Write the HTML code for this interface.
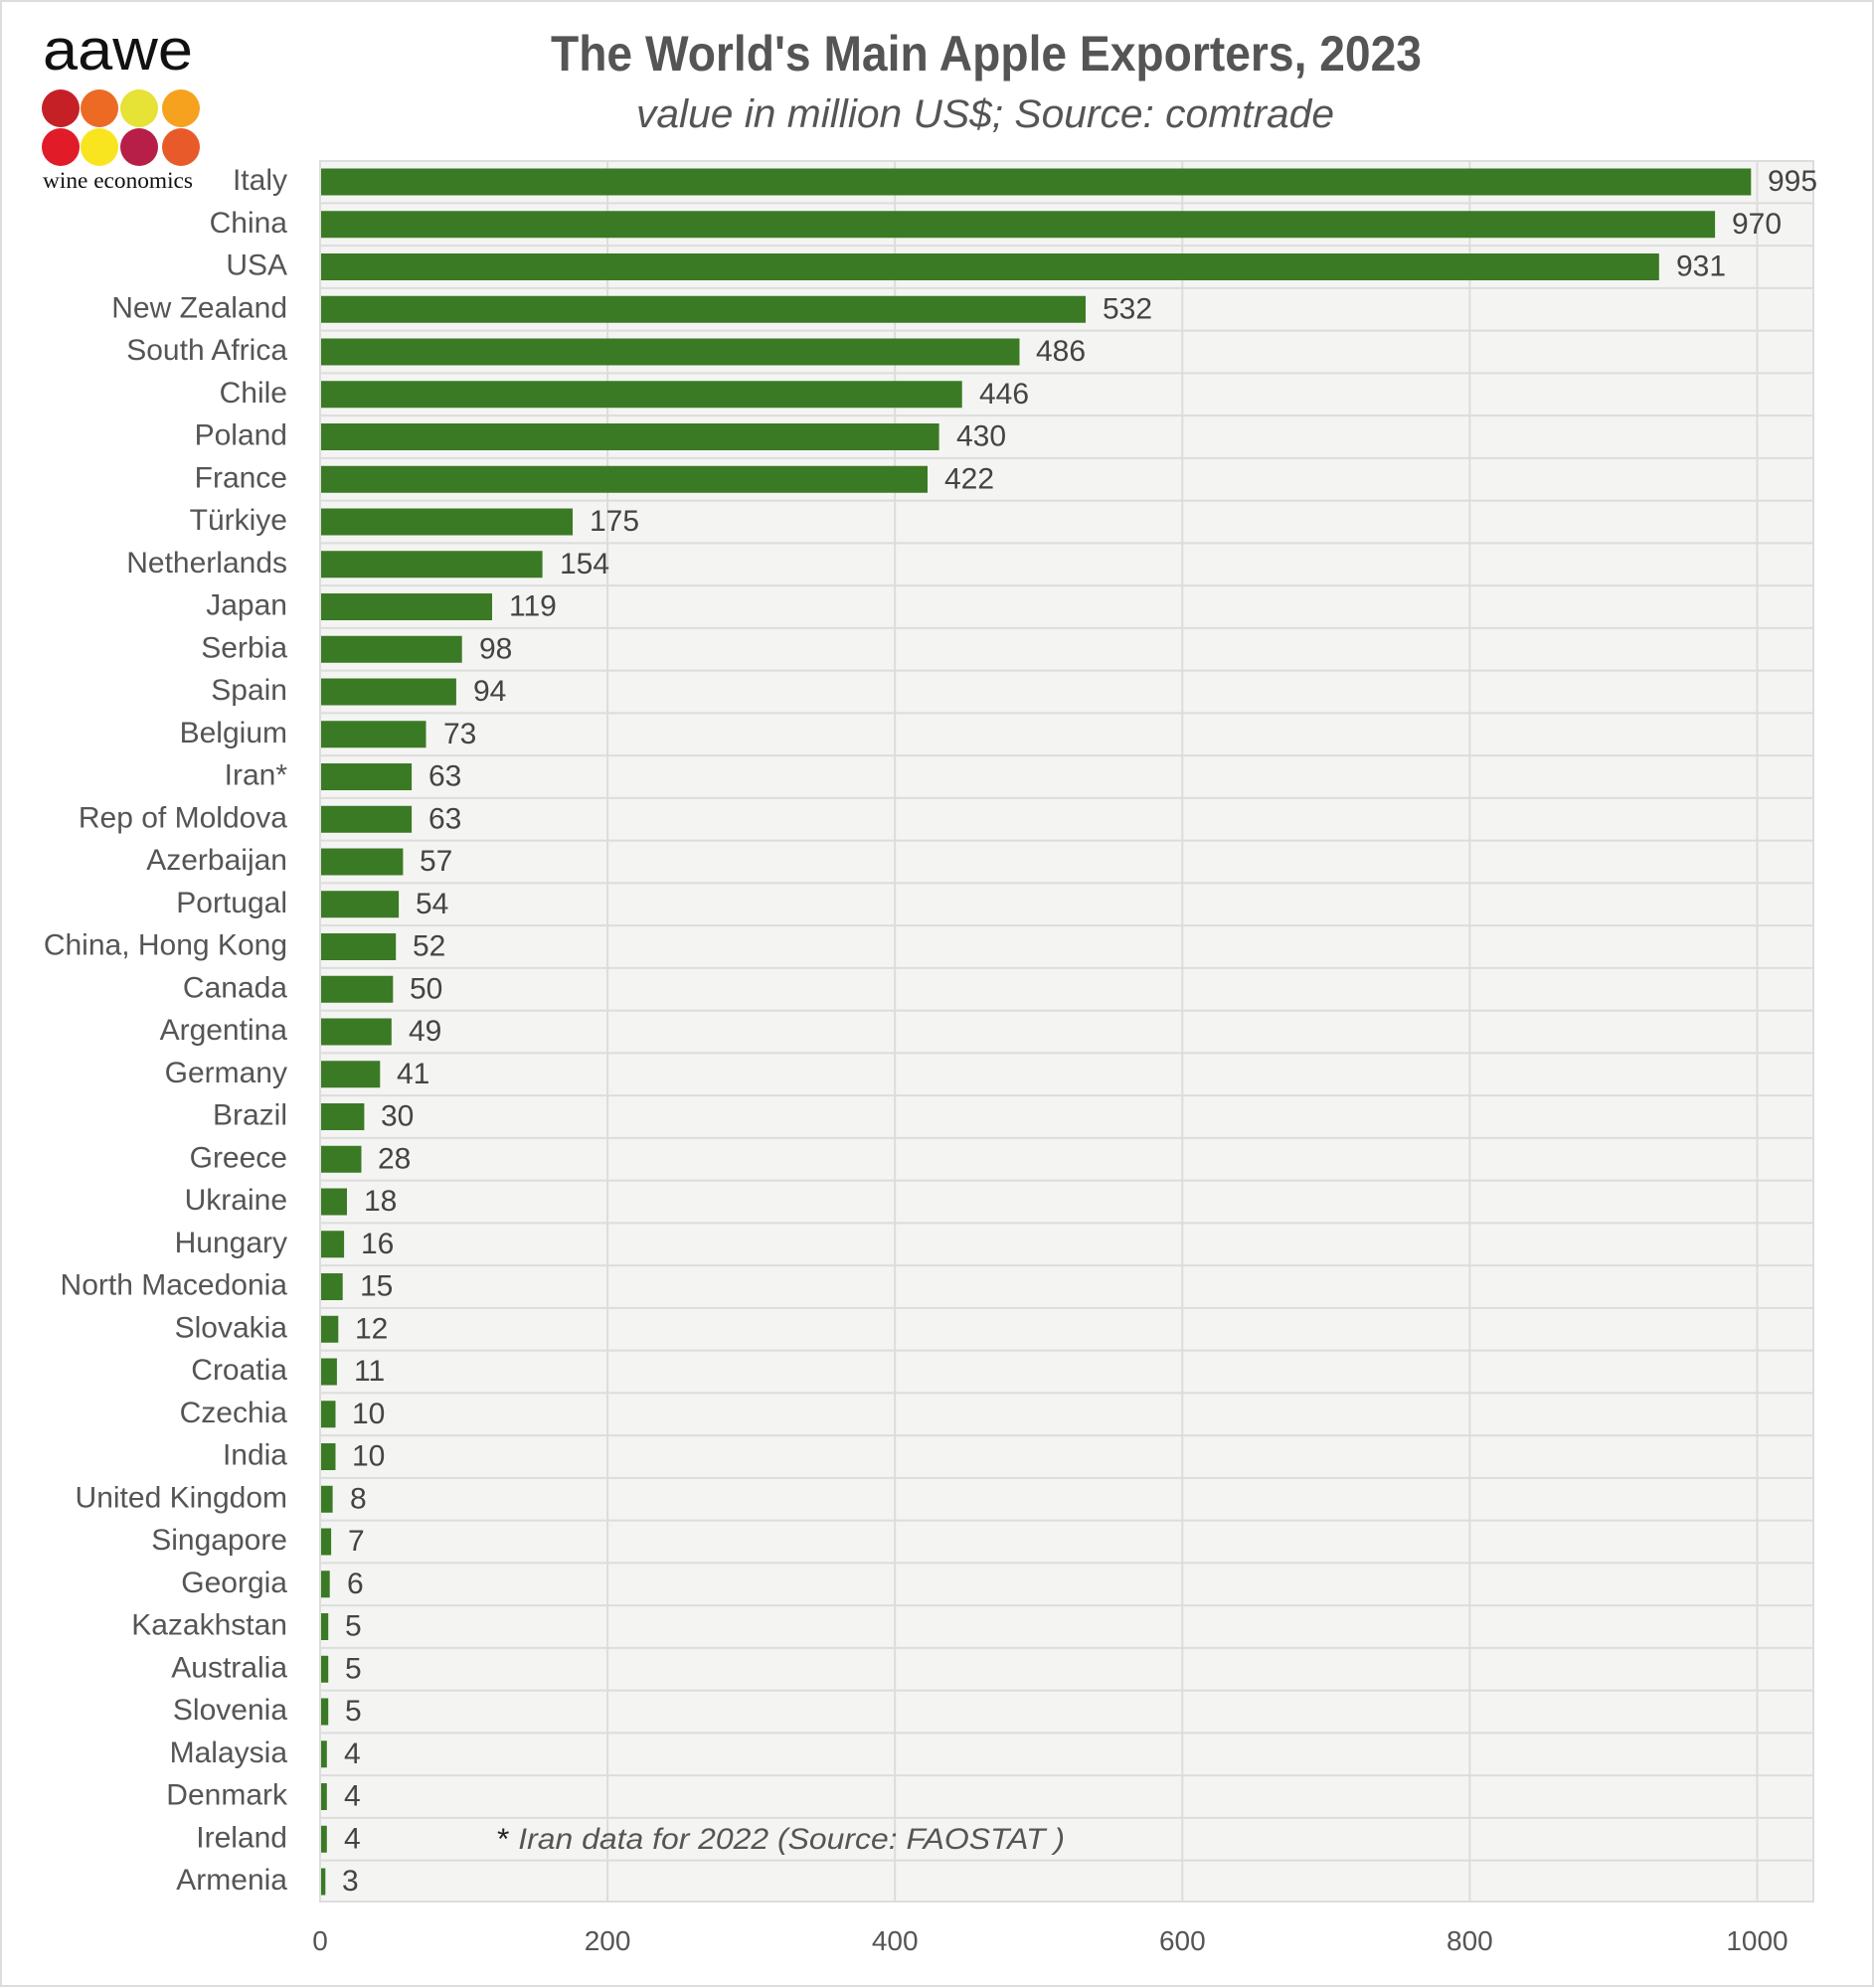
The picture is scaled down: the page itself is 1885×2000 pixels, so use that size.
<!DOCTYPE html>
<html><head><meta charset="utf-8"><style>
html,body{margin:0;padding:0;background:#fff;}
svg{display:block;}
</style></head><body>
<svg width="1885" height="2000" viewBox="0 0 1885 2000" xmlns="http://www.w3.org/2000/svg" font-family="Liberation Sans, sans-serif">
<rect x="1" y="1" width="1883" height="1997" fill="#fff" stroke="#ddd" stroke-width="2"/>
<text x="43" y="70" font-size="58" fill="#111" textLength="151" lengthAdjust="spacingAndGlyphs">aawe</text>
<circle cx="61" cy="109" r="19" fill="#c62027"/>
<circle cx="100" cy="109" r="19" fill="#ec6a24"/>
<circle cx="140" cy="109" r="19" fill="#e6e236"/>
<circle cx="182" cy="109" r="19" fill="#f6a21e"/>
<circle cx="61" cy="148" r="19" fill="#e11b28"/>
<circle cx="100" cy="148" r="19" fill="#f8e51f"/>
<circle cx="140" cy="148" r="19" fill="#b71f48"/>
<circle cx="182" cy="148" r="19" fill="#e95a2a"/>
<text x="43" y="189" font-size="23" font-family="Liberation Serif, serif" fill="#111" textLength="151" lengthAdjust="spacingAndGlyphs">wine economics</text>
<text x="554" y="71" font-size="50" font-weight="bold" fill="#555" textLength="876" lengthAdjust="spacingAndGlyphs">The World's Main Apple Exporters, 2023</text>
<text x="640" y="128" font-size="40" font-style="italic" fill="#555" textLength="702" lengthAdjust="spacingAndGlyphs">value in million US$; Source: comtrade</text>
<rect x="322" y="162" width="1502" height="1751" fill="#f4f5f3" stroke="#ddd" stroke-width="2"/>
<g stroke="#dcdcdc" stroke-width="2">
<line x1="611.1" y1="162" x2="611.1" y2="1913"/>
<line x1="900.2" y1="162" x2="900.2" y2="1913"/>
<line x1="1189.3" y1="162" x2="1189.3" y2="1913"/>
<line x1="1478.4" y1="162" x2="1478.4" y2="1913"/>
<line x1="1767.5" y1="162" x2="1767.5" y2="1913"/>
</g>
<g font-size="28" fill="#555" text-anchor="middle">
<text x="322" y="1962">0</text><text x="611.1" y="1962">200</text><text x="900.2" y="1962">400</text><text x="1189.3" y="1962">600</text><text x="1478.4" y="1962">800</text><text x="1767.5" y="1962">1000</text>
</g>
<g font-size="30">
<g transform="translate(0,183)"><rect x="323" y="-13.5" width="1438.3" height="27" fill="#3b7a24"/><text x="289" y="8" fill="#555" text-anchor="end">Italy</text><text x="1778" y="9" fill="#444">995</text></g>
<g transform="translate(0,225.75)"><line x1="322" x2="1824" y1="-21.4" y2="-21.4" stroke="#dcdcdc" stroke-width="2"/><rect x="323" y="-13.5" width="1402.1" height="27" fill="#3b7a24"/><text x="289" y="8" fill="#555" text-anchor="end">China</text><text x="1742" y="9" fill="#444">970</text></g>
<g transform="translate(0,268.5)"><line x1="322" x2="1824" y1="-21.4" y2="-21.4" stroke="#dcdcdc" stroke-width="2"/><rect x="323" y="-13.5" width="1345.8" height="27" fill="#3b7a24"/><text x="289" y="8" fill="#555" text-anchor="end">USA</text><text x="1686" y="9" fill="#444">931</text></g>
<g transform="translate(0,311.25)"><line x1="322" x2="1824" y1="-21.4" y2="-21.4" stroke="#dcdcdc" stroke-width="2"/><rect x="323" y="-13.5" width="769" height="27" fill="#3b7a24"/><text x="289" y="8" fill="#555" text-anchor="end">New Zealand</text><text x="1109" y="9" fill="#444">532</text></g>
<g transform="translate(0,354)"><line x1="322" x2="1824" y1="-21.4" y2="-21.4" stroke="#dcdcdc" stroke-width="2"/><rect x="323" y="-13.5" width="702.5" height="27" fill="#3b7a24"/><text x="289" y="8" fill="#555" text-anchor="end">South Africa</text><text x="1042" y="9" fill="#444">486</text></g>
<g transform="translate(0,396.75)"><line x1="322" x2="1824" y1="-21.4" y2="-21.4" stroke="#dcdcdc" stroke-width="2"/><rect x="323" y="-13.5" width="644.7" height="27" fill="#3b7a24"/><text x="289" y="8" fill="#555" text-anchor="end">Chile</text><text x="985" y="9" fill="#444">446</text></g>
<g transform="translate(0,439.5)"><line x1="322" x2="1824" y1="-21.4" y2="-21.4" stroke="#dcdcdc" stroke-width="2"/><rect x="323" y="-13.5" width="621.6" height="27" fill="#3b7a24"/><text x="289" y="8" fill="#555" text-anchor="end">Poland</text><text x="962" y="9" fill="#444">430</text></g>
<g transform="translate(0,482.25)"><line x1="322" x2="1824" y1="-21.4" y2="-21.4" stroke="#dcdcdc" stroke-width="2"/><rect x="323" y="-13.5" width="610" height="27" fill="#3b7a24"/><text x="289" y="8" fill="#555" text-anchor="end">France</text><text x="950" y="9" fill="#444">422</text></g>
<g transform="translate(0,525)"><line x1="322" x2="1824" y1="-21.4" y2="-21.4" stroke="#dcdcdc" stroke-width="2"/><rect x="323" y="-13.5" width="253" height="27" fill="#3b7a24"/><text x="289" y="8" fill="#555" text-anchor="end">Türkiye</text><text x="593" y="9" fill="#444">175</text></g>
<g transform="translate(0,567.75)"><line x1="322" x2="1824" y1="-21.4" y2="-21.4" stroke="#dcdcdc" stroke-width="2"/><rect x="323" y="-13.5" width="222.6" height="27" fill="#3b7a24"/><text x="289" y="8" fill="#555" text-anchor="end">Netherlands</text><text x="563" y="9" fill="#444">154</text></g>
<g transform="translate(0,610.5)"><line x1="322" x2="1824" y1="-21.4" y2="-21.4" stroke="#dcdcdc" stroke-width="2"/><rect x="323" y="-13.5" width="172" height="27" fill="#3b7a24"/><text x="289" y="8" fill="#555" text-anchor="end">Japan</text><text x="512" y="9" fill="#444">119</text></g>
<g transform="translate(0,653.25)"><line x1="322" x2="1824" y1="-21.4" y2="-21.4" stroke="#dcdcdc" stroke-width="2"/><rect x="323" y="-13.5" width="141.7" height="27" fill="#3b7a24"/><text x="289" y="8" fill="#555" text-anchor="end">Serbia</text><text x="482" y="9" fill="#444">98</text></g>
<g transform="translate(0,696)"><line x1="322" x2="1824" y1="-21.4" y2="-21.4" stroke="#dcdcdc" stroke-width="2"/><rect x="323" y="-13.5" width="135.9" height="27" fill="#3b7a24"/><text x="289" y="8" fill="#555" text-anchor="end">Spain</text><text x="476" y="9" fill="#444">94</text></g>
<g transform="translate(0,738.75)"><line x1="322" x2="1824" y1="-21.4" y2="-21.4" stroke="#dcdcdc" stroke-width="2"/><rect x="323" y="-13.5" width="105.5" height="27" fill="#3b7a24"/><text x="289" y="8" fill="#555" text-anchor="end">Belgium</text><text x="446" y="9" fill="#444">73</text></g>
<g transform="translate(0,781.5)"><line x1="322" x2="1824" y1="-21.4" y2="-21.4" stroke="#dcdcdc" stroke-width="2"/><rect x="323" y="-13.5" width="91.1" height="27" fill="#3b7a24"/><text x="289" y="8" fill="#555" text-anchor="end">Iran*</text><text x="431" y="9" fill="#444">63</text></g>
<g transform="translate(0,824.25)"><line x1="322" x2="1824" y1="-21.4" y2="-21.4" stroke="#dcdcdc" stroke-width="2"/><rect x="323" y="-13.5" width="91.1" height="27" fill="#3b7a24"/><text x="289" y="8" fill="#555" text-anchor="end">Rep of Moldova</text><text x="431" y="9" fill="#444">63</text></g>
<g transform="translate(0,867)"><line x1="322" x2="1824" y1="-21.4" y2="-21.4" stroke="#dcdcdc" stroke-width="2"/><rect x="323" y="-13.5" width="82.4" height="27" fill="#3b7a24"/><text x="289" y="8" fill="#555" text-anchor="end">Azerbaijan</text><text x="422" y="9" fill="#444">57</text></g>
<g transform="translate(0,909.75)"><line x1="322" x2="1824" y1="-21.4" y2="-21.4" stroke="#dcdcdc" stroke-width="2"/><rect x="323" y="-13.5" width="78.1" height="27" fill="#3b7a24"/><text x="289" y="8" fill="#555" text-anchor="end">Portugal</text><text x="418" y="9" fill="#444">54</text></g>
<g transform="translate(0,952.5)"><line x1="322" x2="1824" y1="-21.4" y2="-21.4" stroke="#dcdcdc" stroke-width="2"/><rect x="323" y="-13.5" width="75.2" height="27" fill="#3b7a24"/><text x="289" y="8" fill="#555" text-anchor="end">China, Hong Kong</text><text x="415" y="9" fill="#444">52</text></g>
<g transform="translate(0,995.25)"><line x1="322" x2="1824" y1="-21.4" y2="-21.4" stroke="#dcdcdc" stroke-width="2"/><rect x="323" y="-13.5" width="72.3" height="27" fill="#3b7a24"/><text x="289" y="8" fill="#555" text-anchor="end">Canada</text><text x="412" y="9" fill="#444">50</text></g>
<g transform="translate(0,1038)"><line x1="322" x2="1824" y1="-21.4" y2="-21.4" stroke="#dcdcdc" stroke-width="2"/><rect x="323" y="-13.5" width="70.8" height="27" fill="#3b7a24"/><text x="289" y="8" fill="#555" text-anchor="end">Argentina</text><text x="411" y="9" fill="#444">49</text></g>
<g transform="translate(0,1080.75)"><line x1="322" x2="1824" y1="-21.4" y2="-21.4" stroke="#dcdcdc" stroke-width="2"/><rect x="323" y="-13.5" width="59.3" height="27" fill="#3b7a24"/><text x="289" y="8" fill="#555" text-anchor="end">Germany</text><text x="399" y="9" fill="#444">41</text></g>
<g transform="translate(0,1123.5)"><line x1="322" x2="1824" y1="-21.4" y2="-21.4" stroke="#dcdcdc" stroke-width="2"/><rect x="323" y="-13.5" width="43.4" height="27" fill="#3b7a24"/><text x="289" y="8" fill="#555" text-anchor="end">Brazil</text><text x="383" y="9" fill="#444">30</text></g>
<g transform="translate(0,1166.25)"><line x1="322" x2="1824" y1="-21.4" y2="-21.4" stroke="#dcdcdc" stroke-width="2"/><rect x="323" y="-13.5" width="40.5" height="27" fill="#3b7a24"/><text x="289" y="8" fill="#555" text-anchor="end">Greece</text><text x="380" y="9" fill="#444">28</text></g>
<g transform="translate(0,1209)"><line x1="322" x2="1824" y1="-21.4" y2="-21.4" stroke="#dcdcdc" stroke-width="2"/><rect x="323" y="-13.5" width="26" height="27" fill="#3b7a24"/><text x="289" y="8" fill="#555" text-anchor="end">Ukraine</text><text x="366" y="9" fill="#444">18</text></g>
<g transform="translate(0,1251.75)"><line x1="322" x2="1824" y1="-21.4" y2="-21.4" stroke="#dcdcdc" stroke-width="2"/><rect x="323" y="-13.5" width="23.1" height="27" fill="#3b7a24"/><text x="289" y="8" fill="#555" text-anchor="end">Hungary</text><text x="363" y="9" fill="#444">16</text></g>
<g transform="translate(0,1294.5)"><line x1="322" x2="1824" y1="-21.4" y2="-21.4" stroke="#dcdcdc" stroke-width="2"/><rect x="323" y="-13.5" width="21.7" height="27" fill="#3b7a24"/><text x="289" y="8" fill="#555" text-anchor="end">North Macedonia</text><text x="362" y="9" fill="#444">15</text></g>
<g transform="translate(0,1337.25)"><line x1="322" x2="1824" y1="-21.4" y2="-21.4" stroke="#dcdcdc" stroke-width="2"/><rect x="323" y="-13.5" width="17.3" height="27" fill="#3b7a24"/><text x="289" y="8" fill="#555" text-anchor="end">Slovakia</text><text x="357" y="9" fill="#444">12</text></g>
<g transform="translate(0,1380)"><line x1="322" x2="1824" y1="-21.4" y2="-21.4" stroke="#dcdcdc" stroke-width="2"/><rect x="323" y="-13.5" width="15.9" height="27" fill="#3b7a24"/><text x="289" y="8" fill="#555" text-anchor="end">Croatia</text><text x="356" y="9" fill="#444">11</text></g>
<g transform="translate(0,1422.75)"><line x1="322" x2="1824" y1="-21.4" y2="-21.4" stroke="#dcdcdc" stroke-width="2"/><rect x="323" y="-13.5" width="14.5" height="27" fill="#3b7a24"/><text x="289" y="8" fill="#555" text-anchor="end">Czechia</text><text x="354" y="9" fill="#444">10</text></g>
<g transform="translate(0,1465.5)"><line x1="322" x2="1824" y1="-21.4" y2="-21.4" stroke="#dcdcdc" stroke-width="2"/><rect x="323" y="-13.5" width="14.5" height="27" fill="#3b7a24"/><text x="289" y="8" fill="#555" text-anchor="end">India</text><text x="354" y="9" fill="#444">10</text></g>
<g transform="translate(0,1508.25)"><line x1="322" x2="1824" y1="-21.4" y2="-21.4" stroke="#dcdcdc" stroke-width="2"/><rect x="323" y="-13.5" width="11.6" height="27" fill="#3b7a24"/><text x="289" y="8" fill="#555" text-anchor="end">United Kingdom</text><text x="352" y="9" fill="#444">8</text></g>
<g transform="translate(0,1551)"><line x1="322" x2="1824" y1="-21.4" y2="-21.4" stroke="#dcdcdc" stroke-width="2"/><rect x="323" y="-13.5" width="10.1" height="27" fill="#3b7a24"/><text x="289" y="8" fill="#555" text-anchor="end">Singapore</text><text x="350" y="9" fill="#444">7</text></g>
<g transform="translate(0,1593.75)"><line x1="322" x2="1824" y1="-21.4" y2="-21.4" stroke="#dcdcdc" stroke-width="2"/><rect x="323" y="-13.5" width="8.7" height="27" fill="#3b7a24"/><text x="289" y="8" fill="#555" text-anchor="end">Georgia</text><text x="349" y="9" fill="#444">6</text></g>
<g transform="translate(0,1636.5)"><line x1="322" x2="1824" y1="-21.4" y2="-21.4" stroke="#dcdcdc" stroke-width="2"/><rect x="323" y="-13.5" width="7.2" height="27" fill="#3b7a24"/><text x="289" y="8" fill="#555" text-anchor="end">Kazakhstan</text><text x="347" y="9" fill="#444">5</text></g>
<g transform="translate(0,1679.25)"><line x1="322" x2="1824" y1="-21.4" y2="-21.4" stroke="#dcdcdc" stroke-width="2"/><rect x="323" y="-13.5" width="7.2" height="27" fill="#3b7a24"/><text x="289" y="8" fill="#555" text-anchor="end">Australia</text><text x="347" y="9" fill="#444">5</text></g>
<g transform="translate(0,1722)"><line x1="322" x2="1824" y1="-21.4" y2="-21.4" stroke="#dcdcdc" stroke-width="2"/><rect x="323" y="-13.5" width="7.2" height="27" fill="#3b7a24"/><text x="289" y="8" fill="#555" text-anchor="end">Slovenia</text><text x="347" y="9" fill="#444">5</text></g>
<g transform="translate(0,1764.75)"><line x1="322" x2="1824" y1="-21.4" y2="-21.4" stroke="#dcdcdc" stroke-width="2"/><rect x="323" y="-13.5" width="5.8" height="27" fill="#3b7a24"/><text x="289" y="8" fill="#555" text-anchor="end">Malaysia</text><text x="346" y="9" fill="#444">4</text></g>
<g transform="translate(0,1807.5)"><line x1="322" x2="1824" y1="-21.4" y2="-21.4" stroke="#dcdcdc" stroke-width="2"/><rect x="323" y="-13.5" width="5.8" height="27" fill="#3b7a24"/><text x="289" y="8" fill="#555" text-anchor="end">Denmark</text><text x="346" y="9" fill="#444">4</text></g>
<g transform="translate(0,1850.25)"><line x1="322" x2="1824" y1="-21.4" y2="-21.4" stroke="#dcdcdc" stroke-width="2"/><rect x="323" y="-13.5" width="5.8" height="27" fill="#3b7a24"/><text x="289" y="8" fill="#555" text-anchor="end">Ireland</text><text x="346" y="9" fill="#444">4</text></g>
<g transform="translate(0,1893)"><line x1="322" x2="1824" y1="-21.4" y2="-21.4" stroke="#dcdcdc" stroke-width="2"/><rect x="323" y="-13.5" width="4.3" height="27" fill="#3b7a24"/><text x="289" y="8" fill="#555" text-anchor="end">Armenia</text><text x="344" y="9" fill="#444">3</text></g>
<text x="500" y="1860" font-style="italic" fill="#555" textLength="571" lengthAdjust="spacingAndGlyphs"><tspan fill="#222" font-style="normal">* </tspan>Iran data for 2022 (Source:  FAOSTAT )</text>
</g>
</svg>
</body></html>
